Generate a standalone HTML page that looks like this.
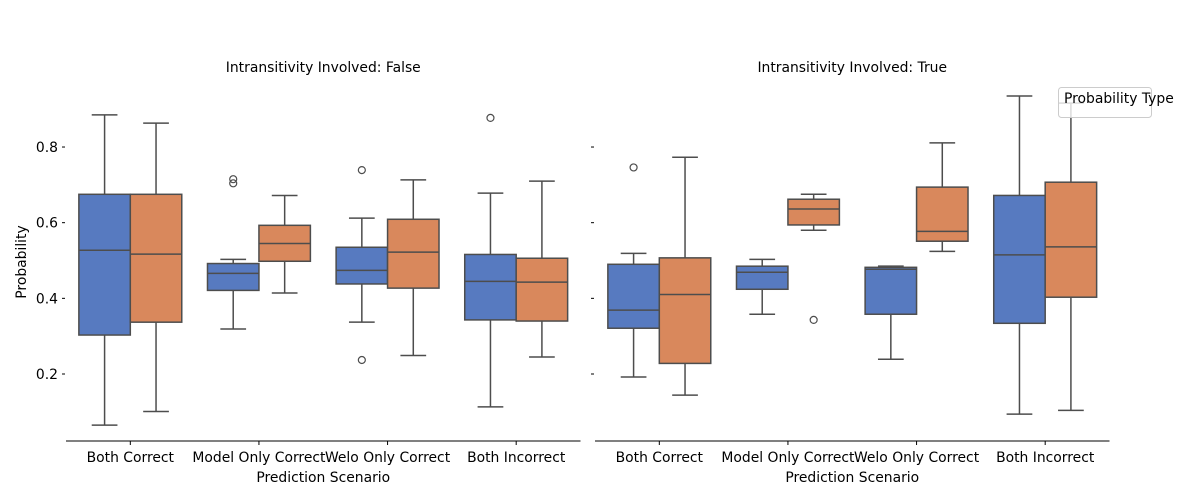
<!DOCTYPE html>
<html><head><meta charset="utf-8"><style>
body{margin:0;background:#fff;}
svg{display:block;font-family:"DejaVu Sans","Liberation Sans",sans-serif;}
</style></head><body>
<svg id="chart" width="1200" height="500" viewBox="0 0 1200 500"></svg>
<script>
const categories = ["Both Correct","Model Only Correct","Welo Only Correct","Both Incorrect"];
const panels = ["Intransitivity Involved: False","Intransitivity Involved: True"];
const yTicks = [0.2,0.4,0.6,0.8];
// [low whisker, q1, median, q3, high whisker]
const falseModel = [[0.065,0.303,0.527,0.675,0.885],[0.319,0.421,0.466,0.492,0.503],[0.337,0.438,0.474,0.535,0.612],[0.113,0.343,0.445,0.516,0.678]];
const falseWelo  = [[0.101,0.337,0.517,0.675,0.863],[0.414,0.498,0.545,0.593,0.672],[0.249,0.427,0.522,0.609,0.713],[0.245,0.340,0.443,0.506,0.710]];
const trueModel  = [[0.192,0.321,0.369,0.490,0.519],[0.358,0.424,0.469,0.485,0.503],[0.239,0.358,0.477,0.482,0.485],[0.094,0.334,0.515,0.672,0.935]];
const trueWelo   = [[0.144,0.228,0.410,0.507,0.773],[0.580,0.594,0.636,0.662,0.675],[0.524,0.551,0.577,0.694,0.811],[0.104,0.403,0.536,0.707,0.916]];
const falseModelOut = [[],[0.715,0.704],[0.739,0.237],[0.877]];
const falseWeloOut  = [[],[],[],[]];
const trueModelOut  = [[0.746],[],[],[]];
const trueWeloOut   = [[],[0.343],[],[]];

const NS="http://www.w3.org/2000/svg";
const svg=document.getElementById('chart');
function mk(tag,attrs,parent){const e=document.createElementNS(NS,tag);for(const k in attrs)e.setAttribute(k,attrs[k]);(parent||svg).appendChild(e);return e;}
function y(v){return 374-(v-0.2)*378.3;}
const panelX=[66,595], panelW=514.5;
const data=[[falseModel,falseWelo,falseModelOut,falseWeloOut],[trueModel,trueWelo,trueModelOut,trueWeloOut]];
const fills=["#577ac0","#d9885c"];
const LC="#4d4d4d";
const FS=13.9;
panels.forEach((title,p)=>{
  const x0=panelX[p];
  const step=panelW/categories.length;
  const cx=i=>x0+step*(i+0.5);
  const g=mk('g',{});
  
  
  const t=mk('text',{x:x0+panelW/2,y:72,'text-anchor':'middle','font-size':FS,fill:'#000'},g);
  t.textContent=title;
  
  
  const ax=mk('line',{x1:x0,x2:x0+panelW,y1:441,y2:441,stroke:'#000','stroke-width':1},g);
  
  
  yTicks.forEach(v=>{
    const tk=mk('line',{x1:x0-4,x2:x0-1,y1:y(v),y2:y(v),stroke:'#000'},g);
    
    
    if(p===0){
      const tl=mk('text',{x:x0-8,y:y(v)+5,'text-anchor':'end','font-size':FS,fill:'#000'},g);
      tl.textContent=v.toFixed(1);
      
      
    }
  });
  categories.forEach((c,i)=>{
    mk('line',{x1:cx(i),x2:cx(i),y1:441,y2:445,stroke:'#000'},g);
    const l=mk('text',{x:cx(i),y:462,'text-anchor':'middle','font-size':FS,fill:'#000'},g);
    l.textContent=c;
    
    
    const bw=step*0.8/2;
    [0,1].forEach(s=>{
      const d=data[p][s][i];
      const bx=cx(i)-bw+s*bw;
      const mid=bx+bw/2;
      const bg=mk('g',{},g);
      
      
      mk('line',{x1:mid,x2:mid,y1:y(d[0]),y2:y(d[1]),stroke:LC,'stroke-width':1.5},bg);
      mk('line',{x1:mid,x2:mid,y1:y(d[3]),y2:y(d[4]),stroke:LC,'stroke-width':1.5},bg);
      mk('line',{x1:mid-bw/4,x2:mid+bw/4,y1:y(d[0]),y2:y(d[0]),stroke:LC,'stroke-width':1.5},bg);
      mk('line',{x1:mid-bw/4,x2:mid+bw/4,y1:y(d[4]),y2:y(d[4]),stroke:LC,'stroke-width':1.5},bg);
      mk('rect',{x:bx,y:y(d[3]),width:bw,height:y(d[1])-y(d[3]),fill:fills[s],stroke:LC,'stroke-width':1.5},bg);
      mk('line',{x1:bx,x2:bx+bw,y1:y(d[2]),y2:y(d[2]),stroke:LC,'stroke-width':1.5},bg);
      data[p][s+2][i].forEach(o=>{
        const c=mk('circle',{cx:mid,cy:y(o),r:3.5,fill:'none',stroke:LC,'stroke-width':1.2},bg);
        
        
      });
    });
  });
  const xt=mk('text',{x:x0+panelW/2,y:482,'text-anchor':'middle','font-size':FS,fill:'#000'},g);
  xt.textContent='Prediction Scenario';
  
  
});
const yl=mk('text',{x:0,y:0,transform:'translate(26,262) rotate(-90)','text-anchor':'middle','font-size':FS,fill:'#000'});
yl.textContent='Probability';


const lg=mk('g',{});


mk('rect',{x:1058.5,y:87.5,width:93,height:30,rx:3,fill:'#fff','fill-opacity':0.8,stroke:'#ccc'},lg);
const lt=mk('text',{x:1064,y:103,'font-size':FS,fill:'#000'},lg);
lt.textContent='Probability Type';


</script>
</body></html>
